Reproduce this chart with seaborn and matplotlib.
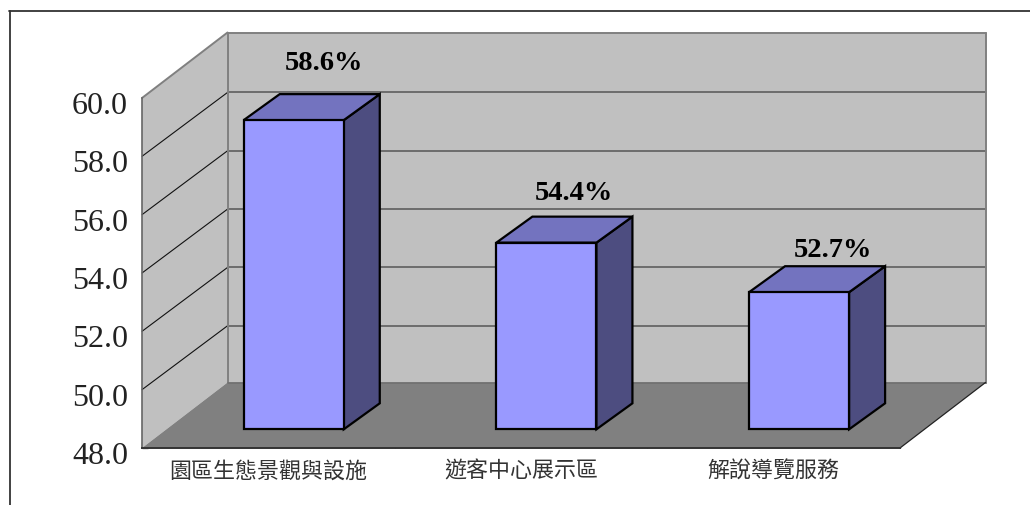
import matplotlib
matplotlib.use("Agg")
import matplotlib.pyplot as plt
import numpy as np
import pandas as pd
import seaborn as sns
from matplotlib.lines import Line2D
from matplotlib.patches import Polygon
from matplotlib.transforms import Affine2D, IdentityTransform

# datos
categorias = ["園區生態景觀與設施", "遊客中心展示區", "解說導覽服務"]
valores = [58.6, 54.4, 52.7]
etiquetas = ["58.6%", "54.4%", "52.7%"]
marcas_y = [48, 50, 52, 54, 56, 58, 60]

W, H = 1030, 506
DX, DY = 85.5, 65.5        # profundidad de la caja, en pixeles
GRID_T = 0.975             # las lineas de la pared de fondo quedan algo mas bajas
BAR_X, BAR_Y = 25.4, 18.7  # cara frontal de la barra respecto al plano delantero
BAR_DX, BAR_DY = 36, 26    # profundidad de la barra
LIFT = [58, 50, 43]        # altura de la etiqueta sobre la barra
SHIFT = [30.5, 27.5, 33.5]

sns.set_theme(style="white")
plt.rcParams["font.family"] = ["Liberation Serif", "Noto Sans CJK TC"]

fig = plt.figure(figsize=(W / 100, H / 100), dpi=100)
ax = fig.add_axes([142 / W, (H - 449) / H, 758 / W, 350 / H])
ax.patch.set_visible(False)

df = pd.DataFrame({"area": categorias, "valor": valores})
sns.barplot(data=df, x="area", y="valor", order=categorias, width=0.396,
            color="#9999FF", saturation=1, edgecolor="black", linewidth=1.6,
            ax=ax, zorder=5)
ax.set_xlim(-0.5, 2.5)
ax.set_ylim(48, 60)
ax.set_xlabel("")
ax.set_ylabel("")


def pt(x, y, t=0.0):
    # punto de datos llevado a pixeles con profundidad t (0 delante, 1 detras)
    px, py = ax.transData.transform((x, y))
    return (px + DX * t, py + DY * t)


def pb(x, y, atras=False):
    # esquina de una barra, en su cara frontal o en la trasera
    px, py = ax.transData.transform((x, y))
    if atras:
        return (px + BAR_X + BAR_DX, py + BAR_Y + BAR_DY)
    return (px + BAR_X, py + BAR_Y)


def cara(puntos, color, z, ec="none", lw=0):
    ax.add_patch(Polygon(puntos, closed=True, facecolor=color, edgecolor=ec,
                         linewidth=lw, transform=IdentityTransform(),
                         clip_on=False, zorder=z))


def linea(a, b, color, lw, z=2):
    ax.add_line(Line2D([a[0], b[0]], [a[1], b[1]], color=color, linewidth=lw,
                       transform=IdentityTransform(), clip_on=False, zorder=z))


# paredes y suelo
x0, x1 = -0.5, 2.5
cara([pt(x0, 48, 1), pt(x1, 48, 1), pt(x1, 60, 1), pt(x0, 60, 1)], "#C0C0C0", 1)
cara([pt(x0, 48), pt(x0, 48, 1), pt(x0, 60, 1), pt(x0, 60)], "#C0C0C0", 1)
cara([pt(x0, 48), pt(x1, 48), pt(x1, 48, 1), pt(x0, 48, 1)], "#808080", 1.5)

for v in marcas_y[1:-1]:
    fondo_izq = (pt(x0, v, 1)[0], pt(x0, v, GRID_T)[1])
    fondo_der = (pt(x1, v, 1)[0], pt(x1, v, GRID_T)[1])
    linea(pt(x0, v), fondo_izq, "#111111", 0.8)
    linea(fondo_izq, fondo_der, "#555555", 1.1)
linea(pt(x0, 60), pt(x0, 60, 1), "#808080", 1.4)
linea(pt(x0, 60, 1), pt(x1, 60, 1), "#808080", 1.4)
linea(pt(x1, 60, 1), pt(x1, 48, 1), "#808080", 1.4)
linea(pt(x0, 60, 1), pt(x0, 48, 1), "#808080", 1.4)
linea(pt(x0, 48, 1), pt(x1, 48, 1), "#707070", 1.2)
linea(pt(x1, 48), pt(x1, 48, 1), "#222222", 0.9)

# barras: la cara frontal es la de seaborn, las otras salen de ella
desplaza = Affine2D().translate(BAR_X, BAR_Y)
for i, (bar, val) in enumerate(zip(ax.patches[:3], valores)):
    bar.set_y(48)
    bar.set_height(val - 48)
    bar.set_transform(ax.transData + desplaza)
    bar.set_clip_on(False)
    bl = bar.get_x()
    br = bl + bar.get_width()
    cara([pb(br, 48), pb(br, 48, True), pb(br, val, True), pb(br, val)],
         "#4D4D80", 4, "black", 1.6)
    cara([pb(bl, val), pb(br, val), pb(br, val, True), pb(bl, val, True)],
         "#7373BF", 4, "black", 1.6)
    cx, cy = pb(i, val)
    ax.text(cx + SHIFT[i], cy + LIFT[i], etiquetas[i], transform=IdentityTransform(),
            ha="center", va="center", fontsize=20.5, fontweight="bold",
            family="Liberation Serif", color="black", zorder=6)

# ejes
sns.despine(ax=ax, top=True, right=True)
ax.spines["left"].set_color("#666666")
ax.spines["left"].set_linewidth(1.2)
ax.spines["bottom"].set_color("#333333")
ax.spines["bottom"].set_linewidth(1.4)
ax.spines["left"].set_zorder(3)
ax.spines["bottom"].set_zorder(3)

ax.set_yticks(marcas_y)
ax.set_yticklabels([f"{v:.1f}" for v in marcas_y])
ax.tick_params(axis="y", direction="in", length=4.5, width=1, color="#666666",
               pad=10, labelsize=23, labelcolor="#222222", left=True)
for lab in ax.get_yticklabels():
    lab.set_transform(lab.get_transform() + Affine2D().translate(0, -4))

ax.set_xticks([0, 1, 2])
ax.set_xticklabels(categorias)
ax.set_xticks([-0.5, 0.5, 1.5, 2.5], minor=True)
ax.tick_params(axis="x", which="major", length=0, pad=8.5, labelsize=15.8, labelcolor="#333333")
ax.tick_params(axis="x", which="minor", direction="in", length=4.5, width=1,
               color="#444444", bottom=True)
for lab in ax.get_xticklabels():
    lab.set_family(["Noto Sans CJK TC"])
    lab.set_fontweight("light")

# marco exterior, solo arriba y a la izquierda
fig.add_artist(Line2D([9 / W, 1], [(H - 12) / H, (H - 12) / H], color="#333333", linewidth=1.3))
fig.add_artist(Line2D([9.5 / W, 9.5 / W], [0, (H - 12) / H], color="#333333", linewidth=1.3))

fig.savefig("out.png", dpi=100)
